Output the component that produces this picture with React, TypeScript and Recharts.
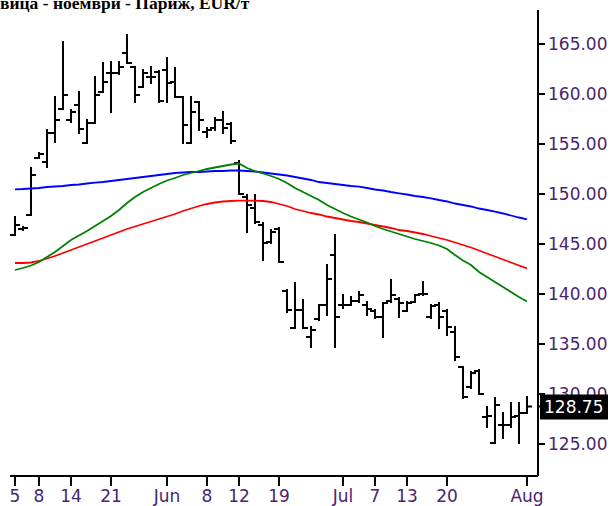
import { ComposedChart, Bar, Line, XAxis, YAxis } from 'recharts';

// trading days May 5 .. Aug 3
const OPEN = [
  145.9, 146.5, 147.9, 153.6, 153.2, 156.1, 158.5, 157.4, 158.9, 155.1, 157.1, 160.2, 162.1,
  162.1, 164.1, 162.7, 160.7, 161.7, 162.2, 162.4, 161.2, 159.7, 155.1, 159.2, 156.2, 156.6,
  157.4, 157.0, 153.1, 149.7, 148.6, 146.9, 145.2, 146.5, 140.3, 136.6, 138.4, 135.7, 137.5,
  138.9, 143.9, 138.9, 138.9, 139.3, 138.9, 138.3, 137.7, 139.3, 139.5, 138.3, 139.2, 140.0,
  137.7, 138.9, 138.3, 136.2, 132.7, 130.7, 132.3, 127.7, 125.1, 126.9, 126.9, 127.8, 128.1,
];
const HIGH = [
  147.7, 146.7, 152.6, 154.1, 156.4, 159.7, 165.2, 158.4, 160.2, 157.4, 161.7, 163.1, 163.2,
  163.2, 165.9, 162.7, 162.4, 162.7, 162.3, 163.6, 162.6, 159.7, 159.7, 159.2, 156.6, 157.6,
  158.2, 157.1, 153.3, 149.9, 149.9, 147.1, 146.4, 146.6, 140.4, 141.1, 139.4, 136.7, 138.9,
  142.9, 145.9, 139.9, 139.7, 140.2, 139.2, 138.4, 139.1, 141.4, 139.6, 139.2, 139.9, 141.2,
  138.9, 139.1, 138.4, 136.7, 132.7, 132.2, 132.4, 128.7, 129.6, 128.1, 129.1, 129.1, 129.7,
];
const LOW = [
  145.9, 146.4, 147.9, 153.6, 152.7, 155.2, 158.5, 157.2, 156.1, 155.1, 157.1, 160.2, 158.2,
  162.0, 163.1, 159.2, 160.7, 161.1, 159.2, 159.2, 159.7, 155.1, 155.1, 156.4, 155.7, 156.4,
  156.1, 155.1, 150.0, 146.2, 147.1, 143.4, 145.1, 143.2, 138.2, 136.6, 136.6, 134.7, 137.4,
  137.9, 134.7, 138.6, 138.9, 139.2, 137.9, 137.6, 135.7, 139.2, 137.7, 138.3, 139.2, 139.9,
  137.6, 136.6, 135.9, 133.4, 129.6, 130.6, 130.0, 126.7, 125.1, 125.6, 126.7, 125.1, 128.1,
];
const CLOSE = [
  146.9, 146.6, 151.9, 154.0, 156.1, 157.4, 159.9, 158.2, 156.5, 157.1, 159.9, 161.2, 162.1,
  162.7, 163.1, 159.9, 162.1, 161.7, 159.3, 161.1, 159.7, 156.9, 158.2, 157.4, 156.4, 157.4,
  156.6, 155.3, 150.0, 148.9, 147.2, 145.1, 146.2, 143.2, 138.4, 138.4, 136.6, 136.4, 138.9,
  141.5, 137.7, 138.9, 139.3, 139.9, 138.5, 137.7, 139.1, 139.9, 139.1, 139.1, 139.9, 140.0,
  138.8, 137.7, 136.7, 133.7, 129.7, 132.1, 130.0, 127.8, 128.9, 126.9, 127.7, 128.1, 128.75,
];
const MA_BLUE = [
  150.47, 150.5, 150.55, 150.6, 150.7, 150.75, 150.8, 150.9, 150.95, 151.05, 151.13, 151.2,
  151.3, 151.4, 151.5, 151.6, 151.7, 151.8, 151.9, 152.0, 152.1, 152.15, 152.2, 152.2, 152.25,
  152.3, 152.3, 152.35, 152.35, 152.3, 152.25, 152.15, 152.05, 151.95, 151.85, 151.7, 151.55,
  151.4, 151.2, 151.1, 151.0, 150.9, 150.8, 150.73, 150.6, 150.45, 150.35, 150.2, 150.07,
  149.95, 149.8, 149.7, 149.57, 149.4, 149.25, 149.05, 148.9, 148.75, 148.55, 148.4, 148.23,
  148.05, 147.85, 147.65, 147.47,
];
const MA_RED = [
  143.1, 143.1, 143.15, 143.3, 143.55, 143.8, 144.1, 144.4, 144.7, 145.0, 145.3, 145.6, 145.9,
  146.2, 146.5, 146.75, 147.0, 147.25, 147.5, 147.75, 148.0, 148.3, 148.55, 148.8, 149.0,
  149.15, 149.25, 149.3, 149.33, 149.33, 149.33, 149.3, 149.2, 149.0, 148.8, 148.5, 148.3,
  148.1, 147.95, 147.75, 147.6, 147.45, 147.3, 147.2, 147.05, 146.9, 146.75, 146.6, 146.4,
  146.3, 146.15, 146.0, 145.8, 145.6, 145.4, 145.15, 144.9, 144.65, 144.35, 144.05, 143.75,
  143.45, 143.15, 142.85, 142.57,
];
const MA_GREEN = [
  142.4, 142.6, 142.85, 143.2, 143.7, 144.2, 144.8, 145.4, 145.85, 146.3, 146.8, 147.3, 147.8,
  148.4, 149.1, 149.7, 150.2, 150.6, 151.0, 151.35, 151.6, 151.9, 152.1, 152.3, 152.5, 152.65,
  152.8, 152.95, 153.05, 152.6, 152.3, 152.05, 151.8, 151.5, 151.1, 150.6, 150.2, 149.8, 149.4,
  148.9, 148.5, 148.1, 147.75, 147.45, 147.15, 146.8, 146.5, 146.25, 146.0, 145.75, 145.5,
  145.3, 145.1, 144.85, 144.5, 143.9, 143.35, 142.9, 142.2, 141.7, 141.2, 140.7, 140.2, 139.7,
  139.25,
];
const TICK_IDX = [0, 3, 7, 12, 19, 24, 28, 33, 41, 45, 49, 54, 64];
const TICK_LABELS = ['5', '8', '14', '21', 'Jun', '8', '12', '19', 'Jul', '7', '13', '20', 'Aug'];
const Y_TICKS = [125, 130, 135, 140, 145, 150, 155, 160, 165];
const LAST = 128.75;

const TXT = '#4a2470';
const FONT = 'DejaVu Sans';

const data = OPEN.map((o, i) => ({
  i,
  open: o,
  high: HIGH[i],
  low: LOW[i],
  close: CLOSE[i],
  blue: MA_BLUE[i],
  red: MA_RED[i],
  green: MA_GREEN[i],
}));

const OhlcShape = (props: any) => {
  const { x, y, width, height, payload } = props;
  if (x == null || y == null) return null;
  const top = Math.min(y, y + height);
  const h = Math.abs(height);
  const cx = Math.round(x + width / 2);
  const span = payload.high - payload.low;
  const py = (v: number) => (span > 0 ? top + ((payload.high - v) / span) * h : top);
  const yo = py(payload.open);
  const yc = py(payload.close);
  return (
    <g stroke="#000" strokeWidth={2}>
      <line x1={cx} x2={cx} y1={top - 1} y2={top + Math.max(h, 1) + 1} />
      <line x1={cx - 5} x2={cx} y1={yo} y2={yo} />
      <line x1={cx} x2={cx + 5} y1={yc} y2={yc} />
    </g>
  );
};

const YTick = (props: any) => {
  const { x, y, payload } = props;
  if (payload.value === LAST) {
    return (
      <g>
        <rect x={540} y={y - 12} width={68} height={25} fill="#000" />
        <text x={544} y={y} dy="0.355em" fill="#fff" fontSize={17} fontFamily={FONT}>
          {LAST.toFixed(2)}
        </text>
      </g>
    );
  }
  return (
    <text x={x} y={y} dy="0.355em" fill={TXT} fontSize={17} fontFamily={FONT} textAnchor="start">
      {Number(payload.value).toFixed(2)}
    </text>
  );
};

export default function App() {
  return (
    <div style={{ position: 'absolute', left: 0, top: 0, width: 615, height: 506, background: '#fff' }}>
      <ComposedChart
        width={615}
        height={506}
        data={data}
        margin={{ top: 10, right: 0, bottom: 0, left: 10 }}
      >
        <XAxis
          dataKey="i"
          type="category"
          ticks={TICK_IDX}
          interval={0}
          padding={{ left: 1, right: 7 }}
          height={30}
          tickSize={10}
          tickMargin={4}
          axisLine={{ stroke: '#000', strokeWidth: 2 }}
          tickLine={{ stroke: '#000', strokeWidth: 2 }}
          tick={{ fill: TXT, fontSize: 17, fontFamily: FONT }}
          tickFormatter={(v) => TICK_LABELS[TICK_IDX.indexOf(Number(v))] ?? ''}
        />
        <YAxis
          yAxisId="left"
          orientation="left"
          width={0}
          domain={[121.8, 168.4]}
          tick={false}
          tickLine={false}
          axisLine={{ stroke: '#000', strokeWidth: 2 }}
        />
        <YAxis
          yAxisId="r"
          orientation="right"
          width={77}
          domain={[121.8, 168.4]}
          allowDataOverflow
          ticks={[...Y_TICKS, LAST]}
          interval={0}
          tickSize={7}
          tickMargin={3}
          axisLine={{ stroke: '#000', strokeWidth: 2 }}
          tickLine={{ stroke: '#000', strokeWidth: 2 }}
          tick={<YTick />}
        />
        <Line yAxisId="r" dataKey="blue" stroke="#0000ff" strokeWidth={1.8} dot={false} isAnimationActive={false} />
        <Line yAxisId="r" dataKey="red" stroke="#ff0000" strokeWidth={1.8} dot={false} isAnimationActive={false} />
        <Line yAxisId="r" dataKey="green" stroke="#008000" strokeWidth={1.8} dot={false} isAnimationActive={false} />
        <Bar
          yAxisId="r"
          dataKey={(d: any) => [d.low, d.high]}
          barSize={8}
          shape={<OhlcShape />}
          isAnimationActive={false}
        />
      </ComposedChart>
      <svg width={615} height={20} style={{ position: 'absolute', left: 0, top: 0 }}>
        <text x={0} y={8.5} fontFamily="Liberation Serif" fontWeight="bold" fontSize={17.5} fill="#000">
          вица - ноември - Париж, EUR/т
        </text>
      </svg>
    </div>
  );
}
